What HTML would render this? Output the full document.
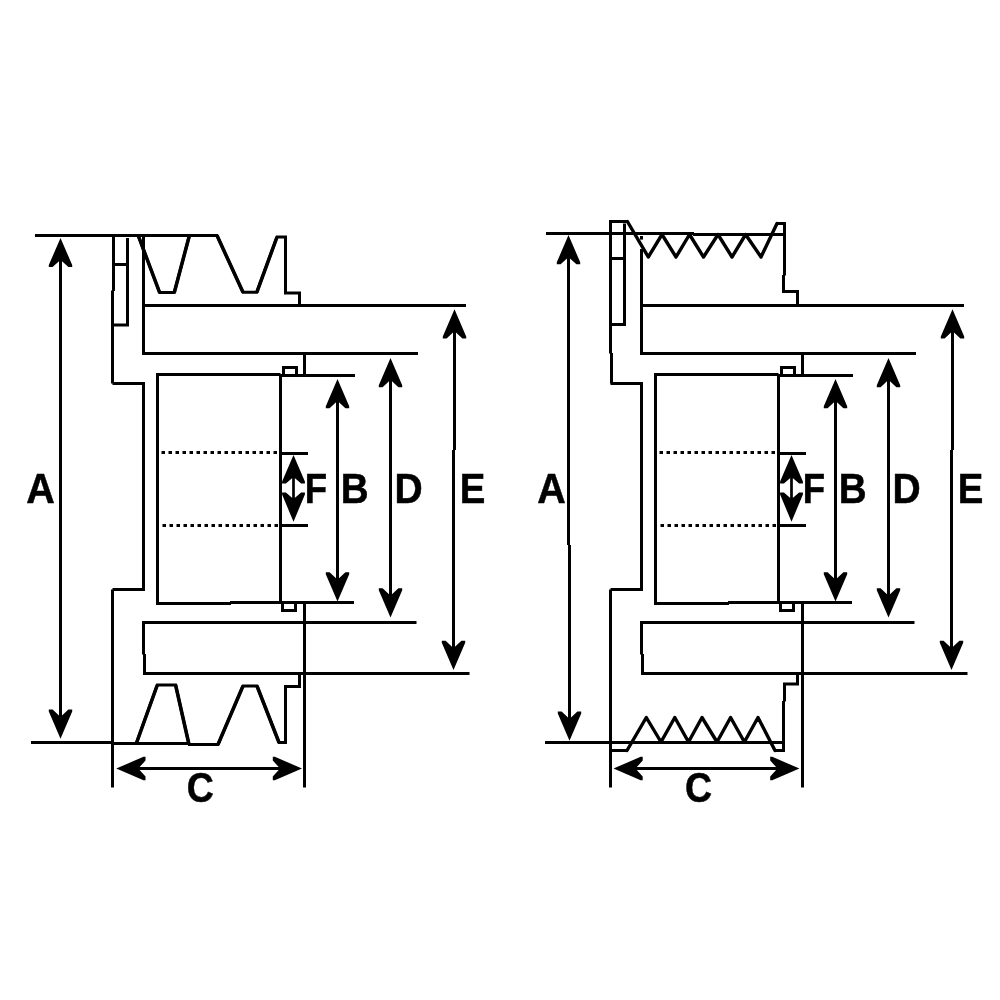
<!DOCTYPE html>
<html lang="en"><head><meta charset="utf-8"><title>Pulley dimension diagram</title>
<style>
html,body{margin:0;padding:0;background:#fff;}
body{width:1000px;height:1000px;overflow:hidden;}
svg{display:block;will-change:transform;}
polyline,line{fill:none;stroke:#000;stroke-width:3.0px;stroke-linejoin:miter;stroke-linecap:butt;}
.d{stroke-width:3.5px;}
.z{stroke-width:3.4px;stroke-linejoin:round;stroke-linecap:round;}
.t{stroke-width:2.7px;}
.dot{stroke-dasharray:3.5 3.5;}
polygon{fill:#000;stroke:none;}
text{font-family:"Liberation Sans",Arial,Helvetica,sans-serif;font-weight:bold;fill:#000;stroke:#000;stroke-width:0.5px;stroke-linejoin:miter;}
</style></head>
<body>
<svg width="1000" height="1000" viewBox="0 0 1000 1000" role="img" aria-label="Pulley dimension diagram with dimensions A, B, C, D, E and F">
<rect width="1000" height="1000" fill="#fff"/>
<!-- left pulley: V-belt grooves -->
<!-- shared hub / bore geometry (offset 0) -->
<polyline points="466,305.5 142,305.5"/>
<polyline points="418,353.5 142,353.5"/>
<polyline points="416.5,622.5 143.5,622.5 143.5,654.5"/>
<polyline points="144.5,654 144.5,673.5 469.5,673.5"/>
<polyline points="112.5,383.5 143.5,383.5 143.5,589.5 112.5,589.5"/>
<polyline points="280.5,374.5 157.5,374.5 157.5,603.5 231,603.5"/>
<polyline points="230,602.5 354,602.5"/>
<polyline points="279,375.5 355,375.5"/>
<polyline points="280.5,374.5 280.5,603"/>
<polyline points="283.5,375 283.5,367.5 296.5,367.5 296.5,375"/>
<polyline points="282.5,603 282.5,610.5 295.5,610.5 295.5,603"/>
<polyline points="304.5,353.5 304.5,375.5"/>
<polyline points="304.5,602.5 304.5,787.5"/>
<line x1="161.5" y1="452.5" x2="277.5" y2="452.5" class="dot"/>
<line x1="162.5" y1="525.5" x2="278.5" y2="525.5" class="dot"/>
<polyline points="280.5,453.5 308,453.5"/>
<polyline points="280.5,525.5 308,525.5"/>
<polyline points="337.5,401 337.5,579.5"/>
<polygon points="337.5,379 325.8,406.2 325.8,408.2 329.6,408.2 336,402.3 339,402.3 345.4,408.2 349.2,408.2 349.2,406.2"/>
<polygon points="337.5,601.5 349.2,574.3 349.2,572.3 345.4,572.3 339,578.2 336,578.2 329.6,572.3 325.8,572.3 325.8,574.3"/>
<polyline points="390.5,380 390.5,595.5"/>
<polygon points="390.5,358 378.8,385.2 378.8,387.2 382.6,387.2 389,381.3 392,381.3 398.4,387.2 402.2,387.2 402.2,385.2"/>
<polygon points="390.5,617.5 402.2,590.3 402.2,588.3 398.4,588.3 392,594.2 389,594.2 382.6,588.3 378.8,588.3 378.8,590.3"/>
<polyline points="454.5,331.3 454.5,450"/>
<polyline points="453.5,450 453.5,648"/>
<polygon points="454.5,309.3 442.8,336.5 442.8,338.5 446.6,338.5 453,332.6 456,332.6 462.4,338.5 466.2,338.5 466.2,336.5"/>
<polygon points="453.5,670 465.2,642.8 465.2,640.8 461.4,640.8 455,646.7 452,646.7 445.6,640.8 441.8,640.8 441.8,642.8"/>
<polyline points="293.5,475 293.5,502" class="t"/>
<polygon points="293.5,455 282.1,481.5 282.1,483.5 285.9,483.5 292,478.2 295,478.2 301.1,483.5 304.9,483.5 304.9,481.5"/>
<polygon points="293.5,521.8 304.9,494.5 304.9,492.5 301.1,492.5 295,497.8 292,497.8 285.9,492.5 282.1,492.5 282.1,494.5"/>
<text transform="translate(304.77,503) scale(0.8682,1)" font-size="42.15px">F</text>
<text transform="translate(340.65,503) scale(0.9158,1)" font-size="42.15px">B</text>
<text transform="translate(394.42,503) scale(0.9260,1)" font-size="42.15px">D</text>
<text transform="translate(459.66,503) scale(0.9110,1)" font-size="42.15px">E</text>
<polyline points="35,235.5 217,235.5 243,292.3 256.8,292.3 277,237 285.5,237 285.5,293 299.5,293 299.5,305.5"/>
<line x1="217" y1="235.5" x2="243" y2="292.3" class="d"/>
<line x1="256.8" y1="292.3" x2="277" y2="237" class="d"/>
<polyline points="138.2,235.5 159.6,292.5 174.3,292.5 189.4,235.5"/>
<line x1="138.2" y1="235.5" x2="159.6" y2="292.5" class="d"/>
<line x1="174.3" y1="292.5" x2="189.4" y2="235.5" class="d"/>
<polyline points="113.5,264.5 127.5,264.5"/>
<polyline points="127.5,238 127.5,325 112.5,325"/>
<polyline points="113.5,235.5 113.5,291"/>
<polyline points="112.5,290.5 112.5,383.5"/>
<polyline points="112.5,589.5 112.5,787.5"/>
<polyline points="143.5,235.5 143.5,353.5"/>
<polyline points="31,742.5 112.5,742.5"/>
<polyline points="112.5,743.5 189.5,743.5"/>
<polyline points="188,744.5 218,744.5 243,686 257,686 279,742.5 285.5,742.5 285.5,686.5 299.5,686.5 299.5,673.5"/>
<line x1="218" y1="744.5" x2="243" y2="686" class="d"/>
<line x1="257" y1="686" x2="279" y2="742.5" class="d"/>
<polyline points="136.3,743.5 157.3,685 175.6,685 189,744.5"/>
<line x1="136.3" y1="743.5" x2="157.3" y2="685" class="d"/>
<line x1="175.6" y1="685" x2="189" y2="744.5" class="d"/>
<polyline points="60.5,259.9 60.5,716.8"/>
<polygon points="60.5,237.9 48.8,265.1 48.8,267.1 52.6,267.1 59,261.2 62,261.2 68.4,267.1 72.2,267.1 72.2,265.1"/>
<polygon points="60.5,738.8 72.2,711.6 72.2,709.6 68.4,709.6 62,715.5 59,715.5 52.6,709.6 48.8,709.6 48.8,711.6"/>
<text transform="translate(26.25,503) scale(0.9382,1)" font-size="42.15px">A</text>
<polyline points="138.3,768.5 280,768.5"/>
<polygon points="116.3,768.5 143.5,780.2 145.5,780.2 145.5,776.4 139.6,770 139.6,767 145.5,760.6 145.5,756.8 143.5,756.8"/>
<polygon points="302,768.5 274.8,756.8 272.8,756.8 272.8,760.6 278.7,767 278.7,770 272.8,776.4 272.8,780.2 274.8,780.2"/>
<text transform="translate(186.68,802) scale(0.8860,1)" font-size="42.39px">C</text>
<!-- right pulley: multi-rib (poly-V) grooves -->
<!-- shared hub / bore geometry (offset 498) -->
<polyline points="964,305.5 640,305.5"/>
<polyline points="916,353.5 640,353.5"/>
<polyline points="914.5,622.5 641.5,622.5 641.5,654.5"/>
<polyline points="642.5,654 642.5,673.5 967.5,673.5"/>
<polyline points="610.5,383.5 641.5,383.5 641.5,589.5 610.5,589.5"/>
<polyline points="778.5,374.5 655.5,374.5 655.5,603.5 729,603.5"/>
<polyline points="728,602.5 852,602.5"/>
<polyline points="777,375.5 853,375.5"/>
<polyline points="778.5,374.5 778.5,603"/>
<polyline points="781.5,375 781.5,367.5 794.5,367.5 794.5,375"/>
<polyline points="780.5,603 780.5,610.5 793.5,610.5 793.5,603"/>
<polyline points="802.5,353.5 802.5,375.5"/>
<polyline points="802.5,602.5 802.5,787.5"/>
<line x1="659.5" y1="452.5" x2="775.5" y2="452.5" class="dot"/>
<line x1="660.5" y1="525.5" x2="776.5" y2="525.5" class="dot"/>
<polyline points="778.5,453.5 806,453.5"/>
<polyline points="778.5,525.5 806,525.5"/>
<polyline points="835.5,401 835.5,579.5"/>
<polygon points="835.5,379 823.8,406.2 823.8,408.2 827.6,408.2 834,402.3 837,402.3 843.4,408.2 847.2,408.2 847.2,406.2"/>
<polygon points="835.5,601.5 847.2,574.3 847.2,572.3 843.4,572.3 837,578.2 834,578.2 827.6,572.3 823.8,572.3 823.8,574.3"/>
<polyline points="888.5,380 888.5,595.5"/>
<polygon points="888.5,358 876.8,385.2 876.8,387.2 880.6,387.2 887,381.3 890,381.3 896.4,387.2 900.2,387.2 900.2,385.2"/>
<polygon points="888.5,617.5 900.2,590.3 900.2,588.3 896.4,588.3 890,594.2 887,594.2 880.6,588.3 876.8,588.3 876.8,590.3"/>
<polyline points="952.5,331.3 952.5,450"/>
<polyline points="951.5,450 951.5,648"/>
<polygon points="952.5,309.3 940.8,336.5 940.8,338.5 944.6,338.5 951,332.6 954,332.6 960.4,338.5 964.2,338.5 964.2,336.5"/>
<polygon points="951.5,670 963.2,642.8 963.2,640.8 959.4,640.8 953,646.7 950,646.7 943.6,640.8 939.8,640.8 939.8,642.8"/>
<polyline points="791.5,475 791.5,502" class="t"/>
<polygon points="791.5,455 780.1,481.5 780.1,483.5 783.9,483.5 790,478.2 793,478.2 799.1,483.5 802.9,483.5 802.9,481.5"/>
<polygon points="791.5,521.8 802.9,494.5 802.9,492.5 799.1,492.5 793,497.8 790,497.8 783.9,492.5 780.1,492.5 780.1,494.5"/>
<text transform="translate(802.77,503) scale(0.8682,1)" font-size="42.15px">F</text>
<text transform="translate(838.65,503) scale(0.9158,1)" font-size="42.15px">B</text>
<text transform="translate(892.42,503) scale(0.9260,1)" font-size="42.15px">D</text>
<text transform="translate(957.66,503) scale(0.9110,1)" font-size="42.15px">E</text>
<polyline points="546,233.5 694,233.5"/>
<polyline points="693,234.5 783,234.5"/>
<polyline points="610.5,221.5 627.4,221.5"/>
<polyline points="627.4,221.5 648.3,257 662,234.5 676,257 689.5,234.5 703.5,257 718,234.5 732,257 745.6,234.5 761,257 777,223.5" class="z"/>
<polyline points="777,223.5 784.5,223.5 784.5,275.5"/>
<polyline points="783.5,275 783.5,291.5 797.5,291.5 797.5,305.5"/>
<polyline points="610.5,258.5 624.5,258.5"/>
<polyline points="624.5,223.5 624.5,324.5 610.5,324.5"/>
<polyline points="610.5,220 610.5,353.5"/>
<polyline points="611.5,353 611.5,383.5"/>
<polyline points="610.5,589.5 610.5,787.5"/>
<polyline points="641.5,236 641.5,239.6"/>
<polyline points="641.5,249 641.5,353.5"/>
<polyline points="545,742.5 782.5,742.5"/>
<polyline points="610.5,750.5 627,750.5"/>
<polyline points="627,750.5 646.3,717.5 661,742 674.8,717.5 688.5,742 702,717.5 717,742 730.6,717.5 744.4,742 758,717.5 775,750.5" class="z"/>
<polyline points="775,750.5 783.5,750.5 783.5,701"/>
<polyline points="784.5,701.5 784.5,684 797.5,684 797.5,673.5"/>
<polyline points="568.5,257.1 568.5,545"/>
<polyline points="569.5,545 569.5,718.8"/>
<polygon points="568.5,235.1 556.8,262.3 556.8,264.3 560.6,264.3 567,258.4 570,258.4 576.4,264.3 580.2,264.3 580.2,262.3"/>
<polygon points="569.5,740.8 581.2,713.6 581.2,711.6 577.4,711.6 571,717.5 568,717.5 561.6,711.6 557.8,711.6 557.8,713.6"/>
<text transform="translate(537.25,503) scale(0.9382,1)" font-size="42.15px">A</text>
<polyline points="635.5,768.5 777.4,768.5"/>
<polygon points="613.5,768.5 640.7,780.2 642.7,780.2 642.7,776.4 636.8,770 636.8,767 642.7,760.6 642.7,756.8 640.7,756.8"/>
<polygon points="799.4,768.5 772.2,756.8 770.2,756.8 770.2,760.6 776.1,767 776.1,770 770.2,776.4 770.2,780.2 772.2,780.2"/>
<text transform="translate(684.98,802) scale(0.8860,1)" font-size="42.39px">C</text>
</svg>
</body></html>
